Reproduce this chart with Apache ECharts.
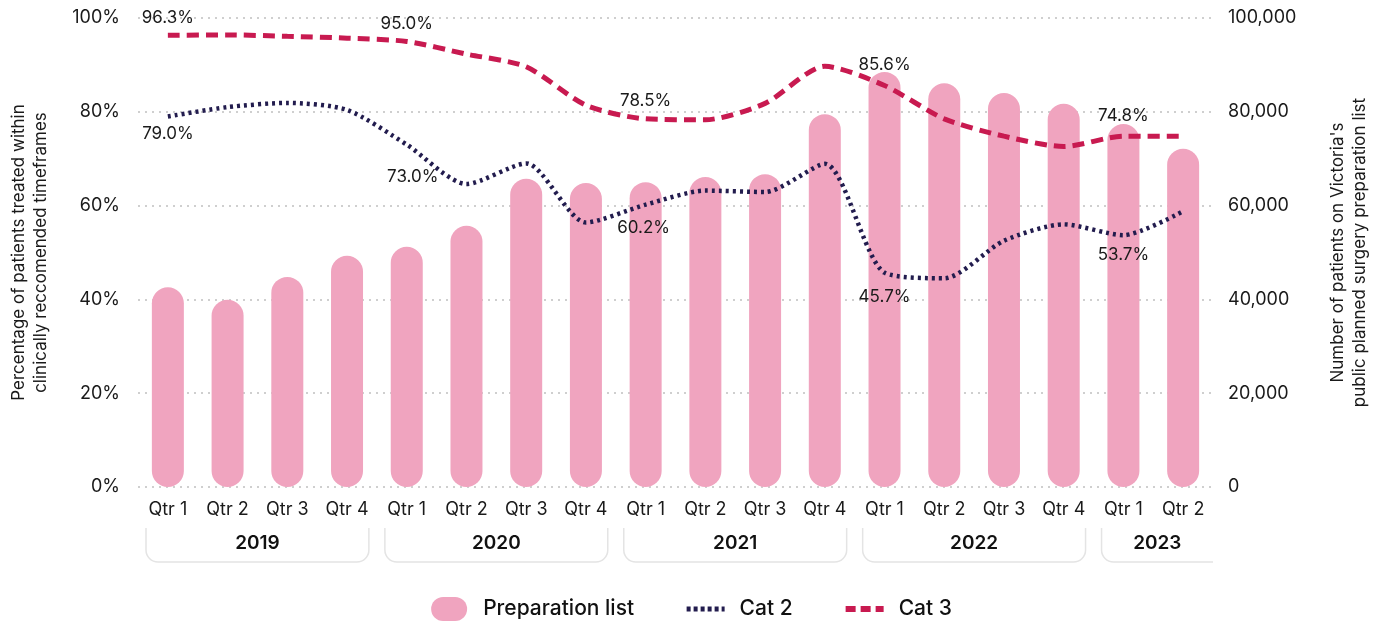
<!DOCTYPE html>
<html>
<head>
<meta charset="utf-8">
<script src="https://cdn.jsdelivr.net/npm/echarts@6/dist/echarts.min.js"></script>
<style>
  html, body { margin: 0; padding: 0; background: #fff; }
  #main { width: 1383px; height: 622px; }
</style>
</head>
<body>
<div id="main"></div>
<script>
// categories
var quarters = ['Qtr 1', 'Qtr 2', 'Qtr 3', 'Qtr 4', 'Qtr 1', 'Qtr 2', 'Qtr 3', 'Qtr 4',
  'Qtr 1', 'Qtr 2', 'Qtr 3', 'Qtr 4', 'Qtr 1', 'Qtr 2', 'Qtr 3', 'Qtr 4', 'Qtr 1', 'Qtr 2'];
var years = ['2019', '2020', '2021', '2022', '2023'];
var yearSpan = [4, 4, 4, 4, 2];

// series values
var prepList = [42600, 39900, 44800, 49300, 51200, 55700, 65700, 64800, 65000, 66100,
  66700, 79500, 88500, 86100, 84000, 81700, 77400, 72100];
var cat2 = [79.0, 81.0, 81.9, 80.4, 73.0, 64.6, 69.0, 56.4, 60.2, 63.2,
  62.9, 68.9, 45.7, 44.5, 52.5, 56.0, 53.7, 58.8];
var cat3 = [96.3, 96.4, 96.1, 95.7, 95.0, 92.3, 89.6, 81.4, 78.5, 78.3,
  81.8, 89.7, 85.6, 78.5, 74.8, 72.6, 74.8, 74.8];
var labelIdx = [0, 4, 8, 12, 16]; // points that carry a value label

// tick labels
var pctTicks = [0, 20, 40, 60, 80, 100];
var numTicks = [0, 20000, 40000, 60000, 80000, 100000];

var FONT = 'Inter';
var chart = '';
// nudges for the value labels (same order as labelIdx)
var cat2LabelShift = [[0, 0], [6, 15], [-2, 6], [0, 7], [0, 2]];
var cat3LabelShift = [[0, 0], [0, 0], [0, 0], [0, 3], [0, 3]];

function withLabels(values, pos, shift) {
  return values.map(function (v, i) {
    var k = labelIdx.indexOf(i);
    if (k < 0) return v;
    return {
      value: v,
      label: {
        show: true, position: pos, distance: 9,
        offset: [shift[k][0], pos === 'top' ? -shift[k][1] : shift[k][1]],
        formatter: v.toFixed(1) + '%',
        color: '#1a1a1a', fontSize: 17, fontFamily: FONT
      }
    };
  });
}

var option = {
  animation: false,
  grid: { left: 135, right: 170, top: 18, bottom: 135 },
  legend: {
    top: 592,
    left: 'center',
    itemWidth: 38,
    itemHeight: 24,
    itemGap: 50,
    textStyle: { fontSize: 21, fontWeight: 500, color: '#111', fontFamily: FONT, padding: [0, 0, 0, 10] },
    data: [
      { name: 'Preparation list', icon: 'path://M12,0 H24 A12,12 0 0 1 24,24 H12 A12,12 0 0 1 12,0 Z' },
      { name: 'Cat 2', itemStyle: { opacity: 0 }, lineStyle: { width: 5, type: [4, 3], color: '#221c4e' } },
      { name: 'Cat 3', itemStyle: { opacity: 0 }, lineStyle: { width: 6, type: [10, 5], color: '#c81a50' } }
    ]
  },
  xAxis: {
    type: 'category',
    data: quarters,
    axisLine: { show: false },
    axisTick: { show: false },
    axisLabel: { color: '#1a1a1a', fontSize: 18, fontFamily: FONT, margin: 14, interval: 0 }
  },
  yAxis: [
    {
      type: 'value', min: pctTicks[0], max: pctTicks[pctTicks.length - 1], interval: 20,
      name: 'Percentage of patients treated within\nclinically reccomended timeframes',
      nameLocation: 'middle', nameGap: 86,
      nameTextStyle: { fontSize: 17, color: '#1a1a1a', fontFamily: FONT, lineHeight: 22 },
      axisLabel: { formatter: '{value}%', color: '#1a1a1a', fontSize: 18, fontFamily: FONT, margin: 18 },
      splitLine: { lineStyle: { type: [2, 5], color: '#cfcfcf', width: 2 } }
    },
    {
      type: 'value', min: numTicks[0], max: numTicks[numTicks.length - 1], interval: 20000,
      name: "Number of patients on Victoria's\npublic planned surgery preparation list",
      nameLocation: 'middle', nameGap: 114, nameRotate: 90,
      nameTextStyle: { fontSize: 17, color: '#1a1a1a', fontFamily: FONT, lineHeight: 22 },
      axisLabel: {
        formatter: function (v) { return v.toLocaleString('en-US'); },
        color: '#1a1a1a', fontSize: 18, fontFamily: FONT, margin: 15
      },
      splitLine: { show: false }
    }
  ],
  series: [
    {
      name: 'Preparation list', type: 'bar', yAxisIndex: 1, barWidth: 32,
      itemStyle: { color: '#f0a4bf', borderRadius: 16 },
      data: prepList
    },
    {
      name: 'Cat 2', type: 'line', smooth: 0.25, symbol: 'circle', symbolSize: 0,
      showSymbol: true, showAllSymbol: true,
      lineStyle: { color: '#221c4e', width: 4.5, type: [3, 4] },
      itemStyle: { color: '#221c4e' },
      data: withLabels(cat2, 'bottom', cat2LabelShift)
    },
    {
      name: 'Cat 3', type: 'line', smooth: 0.25, symbol: 'circle', symbolSize: 0,
      showSymbol: true, showAllSymbol: true,
      lineStyle: { color: '#c81a50', width: 5, type: [12, 7] },
      itemStyle: { color: '#c81a50' },
      data: withLabels(cat3, 'top', cat3LabelShift)
    }
  ]
};

// year group boxes under the quarter labels
function drawYears() {
  var band = chart.convertToPixel({ xAxisIndex: 0 }, 1) - chart.convertToPixel({ xAxisIndex: 0 }, 0);
  var gridRight = 1383 - 170;
  var els = [];
  var start = 0;
  years.forEach(function (y, k) {
    var end = start + yearSpan[k] - 1;
    var x0 = chart.convertToPixel({ xAxisIndex: 0 }, start) - band / 2 + 8;
    var x1 = chart.convertToPixel({ xAxisIndex: 0 }, end) + band / 2 - 8;
    var last = k === years.length - 1;
    if (last) x1 = gridRight + 40;
    els.push({
      type: 'rect', silent: true,
      shape: { x: x0, y: 527, width: x1 - x0, height: 35, r: [0, 0, 12, 12] },
      style: { fill: 'none', stroke: '#e4e4e4', lineWidth: 1.5 }
    });
    els.push({
      type: 'text', silent: true,
      style: {
        text: y, x: (x0 + Math.min(x1, gridRight)) / 2, y: 543,
        align: 'center', verticalAlign: 'middle',
        font: '600 19px ' + FONT, fill: '#111'
      }
    });
    start = end + 1;
  });
  // open the top edge and clip the last box at the grid edge
  els.push({ type: 'rect', silent: true, shape: { x: 130, y: 525, width: 1130, height: 3 }, style: { fill: '#fff' } });
  els.push({ type: 'rect', silent: true, shape: { x: gridRight, y: 524, width: 60, height: 45 }, style: { fill: '#fff' } });
  chart.setOption({ graphic: els });
}

chart = echarts.init(document.getElementById('main'));
chart.setOption(option);
drawYears();
</script>
</body>
</html>
